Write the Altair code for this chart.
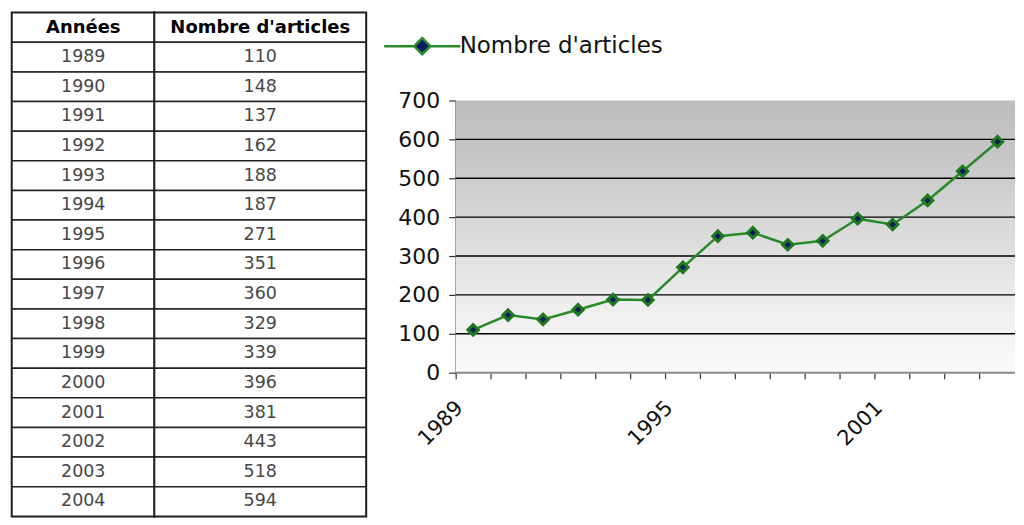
import altair as alt
import pandas as pd

# ---- data ----
years = [1989, 1990, 1991, 1992, 1993, 1994, 1995, 1996,
         1997, 1998, 1999, 2000, 2001, 2002, 2003, 2004]
articles = [110, 148, 137, 162, 188, 187, 271, 351,
            360, 329, 339, 396, 381, 443, 518, 594]
header = ["Années", "Nombre d'articles"]
series_name = "Nombre d'articles"
y_ticks = [0, 100, 200, 300, 400, 500, 600, 700]
grid_values = [100, 200, 300, 400, 500, 600]
label_step = 6

FONT = "DejaVu Sans"

# ---- table ----
table_df = pd.DataFrame({
    "i": list(range(len(years) + 1)),
    "c1": [header[0]] + [str(y) for y in years],
    "c2": [header[1]] + [str(v) for v in articles],
    "hdr": [True] + [False] * len(years),
})

TABLE_H = 505


def table_col(field, w):
    base = alt.Chart(table_df)
    ypos = alt.Y("i:O", axis=None,
                 scale=alt.Scale(type="band", paddingInner=0, paddingOuter=0))
    cells = base.mark_rect(fill="white", stroke="#222", strokeWidth=1.5).encode(y=ypos)
    head = base.transform_filter("datum.hdr").mark_text(
        font=FONT, fontSize=18, fontWeight="bold", color="#000"
    ).encode(y=ypos, text=f"{field}:N")
    body = base.transform_filter("!datum.hdr").mark_text(
        font=FONT, fontSize=17.5, color="#474747"
    ).encode(y=ypos, text=f"{field}:N")
    return alt.layer(cells, head, body).properties(
        width=w, height=TABLE_H,
        view=alt.ViewBackground(stroke="#111", strokeWidth=2.5),
    )


col1 = table_col("c1", 143)
col2 = table_col("c2", 212)

# ---- line chart ----
W = 561
H = 361
df = pd.DataFrame({"year": years, "n": articles, "serie": [series_name] * len(years)})

yscale = alt.Scale(domain=[0, 700], range=[H, 88], nice=False, zero=True)
yaxis = alt.Axis(values=y_ticks, grid=False, title=None, domainColor="#333",
                 domainWidth=1.5, tickColor="#333", tickSize=7, tickWidth=1.2,
                 labelFont=FONT, labelFontSize=22, labelColor="#111",
                 labelPadding=9)


def Y(field):
    return alt.Y(f"{field}:Q", scale=yscale, axis=yaxis)


xenc = alt.X(
    "year:O", title=None,
    scale=alt.Scale(type="band", paddingInner=0, paddingOuter=0),
    axis=alt.Axis(
        bandPosition=0, labelAngle=315, labelAlign="right", labelBaseline="top",
        labelExpr=f"(datum.value - {years[0]}) % {label_step} === 0 ? datum.label : ''",
        domain=False, ticks=True, tickSize=6, tickColor="#333", tickWidth=1.2,
        labelFont=FONT, labelFontSize=21, labelColor="#111", labelPadding=18,
        labelOffset=-21, labelOverlap=False, grid=False,
    ),
)

gradient = alt.LinearGradient(
    gradient="linear",
    stops=[
        alt.GradientStop(color="#bdbdbd", offset=0),
        alt.GradientStop(color="#c6c6c6", offset=0.2),
        alt.GradientStop(color="#d8d8d8", offset=0.45),
        alt.GradientStop(color="#ebebeb", offset=0.7),
        alt.GradientStop(color="#fbfbfb", offset=1),
    ],
    x1=0, x2=0, y1=0, y2=1,
)

bg = alt.Chart(pd.DataFrame({"n": [y_ticks[-1]], "n0": [y_ticks[0]]})).mark_rect(
    color=gradient
).encode(y=Y("n"), y2="n0:Q")

grid = alt.Chart(pd.DataFrame({"n": grid_values})).mark_rule(
    color="#000", strokeWidth=1.4
).encode(y=Y("n"))

baseline = alt.Chart(pd.DataFrame({"n": [y_ticks[0]]})).mark_rule(
    color="#8a8a8a", strokeWidth=2
).encode(y=Y("n"))

legend_path = "M-4.7,0L-1,0M1,0L4.7,0M0,-1L1,0L0,1L-1,0Z"

line = alt.Chart(df).mark_line(strokeWidth=2.5, color="#2a8a2a").encode(
    x=xenc, y=Y("n"),
)

points = alt.Chart(df).mark_point(
    shape="diamond", filled=True, stroke="#1f7a1f",
    strokeWidth=3, size=110, opacity=1
).encode(
    x=xenc, y=Y("n"),
    fill=alt.Fill(
        "serie:N", scale=alt.Scale(range=["#0a1a66"]),
        legend=alt.Legend(
            title=None, orient="none", legendX=400, legendY=22, padding=0,
            symbolType=legend_path, symbolSize=264, symbolStrokeWidth=2.5,
            symbolStrokeColor="#2a8a2a", symbolFillColor="#0a1a66",
            symbolOpacity=1,
            labelFont=FONT, labelFontSize=23, labelColor="#111",
            labelOffset=26, labelLimit=400,
        ),
    ),
)

chart_lines = alt.layer(bg, grid, baseline, line, points).properties(width=W, height=H)

table = alt.hconcat(col1, col2, spacing=0, bounds="flush")

chart = alt.hconcat(table, chart_lines, spacing=30).properties(
    padding={"left": 2, "top": 2, "right": 0, "bottom": 0}
).configure(font=FONT).configure_view(stroke="transparent", strokeWidth=0)

chart.save("out.html", embed_options={"renderer": "svg", "actions": False})
